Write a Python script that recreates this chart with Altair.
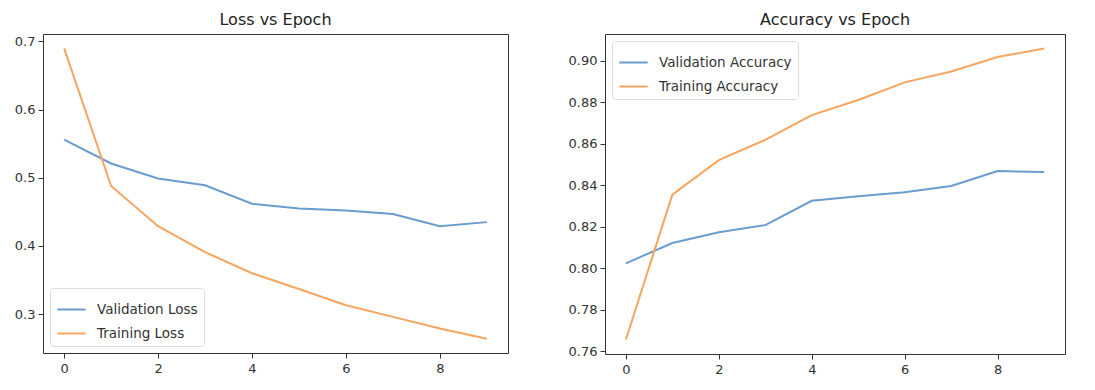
import altair as alt
import pandas as pd

epochs = list(range(10))
val_loss = [0.556, 0.521, 0.499, 0.489, 0.462, 0.455, 0.452, 0.447, 0.429, 0.435]
train_loss = [0.690, 0.488, 0.429, 0.391, 0.360, 0.337, 0.313, 0.296, 0.279, 0.264]
val_acc = [0.8024, 0.8122, 0.8174, 0.8208, 0.8325, 0.8347, 0.8366, 0.8397, 0.8469, 0.8464]
train_acc = [0.7657, 0.8355, 0.8521, 0.8619, 0.8738, 0.8811, 0.8896, 0.8948, 0.9018, 0.9059]

x_ticks = [0, 2, 4, 6, 8]
loss_ticks = [0.3, 0.4, 0.5, 0.6, 0.7]
acc_ticks = [0.76, 0.78, 0.80, 0.82, 0.84, 0.86, 0.88, 0.90]

BLUE = "#6a9ccd"
ORANGE = "#f5a55e"
FONT = "DejaVu Sans"

loss_df = pd.DataFrame({
    "epoch": epochs * 2,
    "value": val_loss + train_loss,
    "series": ["Validation Loss"] * 10 + ["Training Loss"] * 10,
})
acc_df = pd.DataFrame({
    "epoch": epochs * 2,
    "value": val_acc + train_acc,
    "series": ["Validation Accuracy"] * 10 + ["Training Accuracy"] * 10,
})


def panel(df, title, domain_y, yticks, yfmt, names, legend_orient, w, h):
    return alt.Chart(df, title=alt.TitleParams(title, fontSize=16, fontWeight="normal",
                                                font=FONT, color="#222", offset=6)).mark_line(
        strokeWidth=2
    ).encode(
        x=alt.X("epoch:Q",
                scale=alt.Scale(domain=[-0.45, 9.45], nice=False, zero=False),
                axis=alt.Axis(values=x_ticks, title=None, grid=False, domain=False,
                              format="d", labelFontSize=13, labelFont=FONT,
                              labelColor="#333", tickColor="#333", tickSize=5,
                              labelPadding=4)),
        y=alt.Y("value:Q",
                scale=alt.Scale(domain=domain_y, nice=False, zero=False),
                axis=alt.Axis(values=yticks, title=None, grid=False, domain=False,
                              format=yfmt, labelFontSize=13, labelFont=FONT,
                              labelColor="#333", tickColor="#333", tickSize=5,
                              labelPadding=3)),
        color=alt.Color("series:N",
                        scale=alt.Scale(domain=names, range=[BLUE, ORANGE]),
                        sort=names,
                        legend=alt.Legend(title=None, orient=legend_orient,
                                          symbolType="stroke", symbolStrokeWidth=2,
                                          symbolSize=800, labelFontSize=13.5,
                                          labelFont=FONT, labelColor="#333",
                                          strokeColor="#ddd", fillColor="white",
                                          padding=6, cornerRadius=3, labelOffset=10,
                                          offset=7, rowPadding=2)),
    ).properties(width=w, height=h)


left = panel(loss_df, "Loss vs Epoch", [0.243, 0.711], loss_ticks, ".1f",
             ["Validation Loss", "Training Loss"], "bottom-left", 465, 319)
right = panel(acc_df, "Accuracy vs Epoch", [0.7587, 0.9129], acc_ticks, ".2f",
              ["Validation Accuracy", "Training Accuracy"], "top-left", 460, 320)

chart = alt.hconcat(left, right, spacing=58).resolve_scale(color="independent").configure_view(
    stroke="#333", strokeWidth=1
).properties(padding={"left": 5, "top": 3, "right": 5, "bottom": 5})

chart.save("out.html", embed_options={"renderer": "svg", "actions": False})
